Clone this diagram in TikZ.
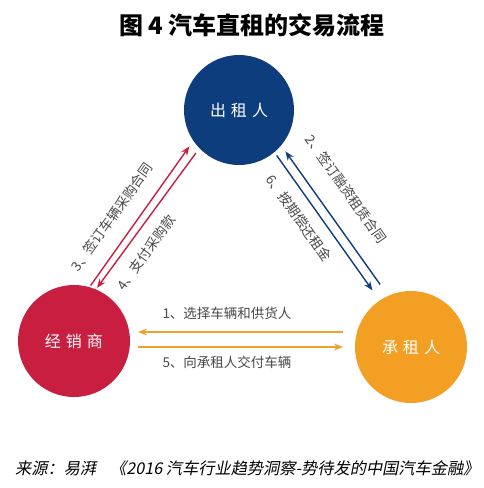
\documentclass[tikz,border=0pt]{standalone}
\usepackage{fontspec}
\newfontfamily\cjk{Noto Sans CJK SC}
\newfontfamily\cjkit[FakeSlant=0.2]{Noto Sans CJK SC}
\usetikzlibrary{arrows.meta}
\definecolor{cred}{HTML}{C81E40}
\definecolor{cnavy}{HTML}{0E3D7E}
\definecolor{corange}{HTML}{F29F24}
\definecolor{arrorange}{HTML}{F0A030}
\definecolor{labgray}{HTML}{484848}
\begin{document}
\begin{tikzpicture}[x=1pt,y=-1pt,
  party/.style={circle, inner sep=0pt, outer sep=0pt, text=white, font=\cjk\fontsize{16}{18}\selectfont},
  arr/.style={line width=1.4pt, -{Stealth[length=9pt,width=7pt]}},
  lab/.style={text=labgray, font=\cjk\fontsize{13.5}{15}\selectfont, inner sep=0pt}]
\fill[white] (0,0) rectangle (484,488);
\useasboundingbox (0,0) rectangle (484,488);
\node[font=\cjk\bfseries\fontsize{24}{26}\selectfont, text=black] (title) at (252,25) {图 4 汽车直租的交易流程};
\node[party, fill=cnavy, minimum size=110pt] (T) at (239,110) {出\hspace{5pt}租\hspace{5pt}人};
\node[party, fill=cred, minimum size=112pt] (L) at (74,341) {经\hspace{5pt}销\hspace{5pt}商};
\node[party, fill=corange, minimum size=112pt] (R) at (411,347) {承\hspace{5pt}租\hspace{5pt}人};
% red pair
\draw[arr, cred, shorten <=2pt, shorten >=7pt] (L.74) -- (T.214);
\draw[arr, cred, shorten <=6pt, shorten >=2pt] (T.224) -- (L.67);
% navy pair
\draw[arr, cnavy, shorten <=14pt, shorten >=7.5pt] (R.114) -- (T.-40);
\draw[arr, cnavy, shorten <=4pt, shorten >=12.5pt] (T.-50) -- (R.124);
% orange pair
\draw[arr, arrorange] ([xshift=-12pt,yshift=15pt]R.west) -- ([xshift=8pt,yshift=9pt]L.east);
\draw[arr, arrorange] ([xshift=8pt,yshift=-6pt]L.east) -- ([xshift=-12pt,yshift=0pt]R.west);
% labels
\node[lab] (l1) at (227,313) {1、选择车辆和供货人};
\node[lab] (l5) at (227,362) {5、向承租人交付车辆};
\node[lab, rotate=54.5] (l3) at (112,217) {3、签订车辆采购合同};
\node[lab, rotate=54.5] (l4) at (146,253) {4、支付采购款};
\node[lab, rotate=-55] (l2) at (346,189) {2、签订融资租赁合同};
\node[lab, rotate=-55] (l6) at (299,218) {6、按期偿还租金};
\node[anchor=west, inner sep=0pt, text=black, font=\cjkit\fontsize{16.2}{18}\selectfont] (src) at (15,468) {来源：易湃\hspace{14pt}《2016 汽车行业趋势洞察-势待发的中国汽车金融》};
\end{tikzpicture}
\end{document}
